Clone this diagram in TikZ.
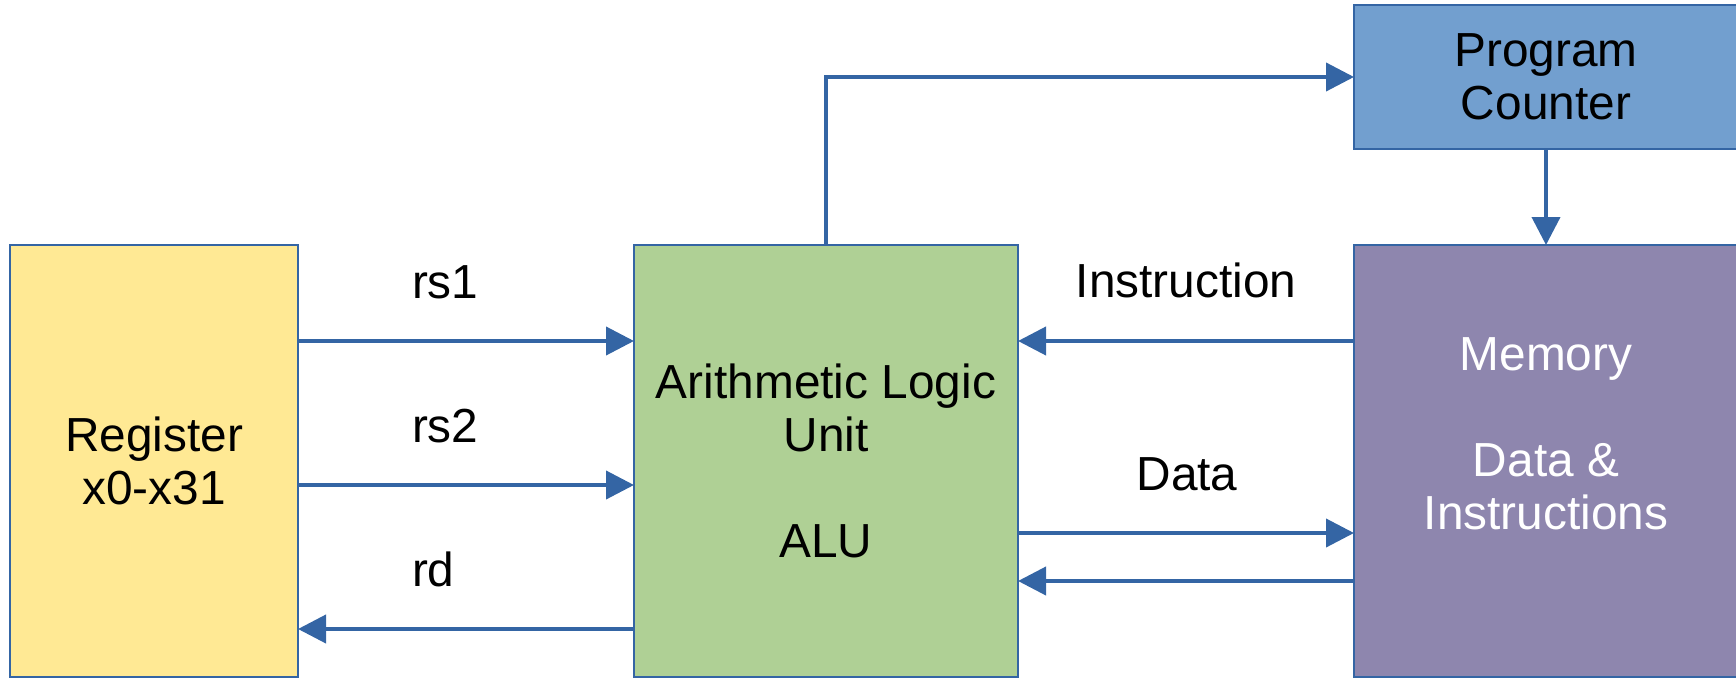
\documentclass[tikz,border=0pt]{standalone}
\usepackage{fontspec}
\setmainfont{Liberation Sans}
\usetikzlibrary{arrows.meta}
\definecolor{lineblue}{HTML}{3465A4}
\definecolor{regyellow}{HTML}{FFE994}
\definecolor{alugreen}{HTML}{AFD095}
\definecolor{pcblue}{HTML}{729FCF}
\definecolor{mempurple}{HTML}{8E86AE}
\tikzset{
  box/.style={draw=lineblue, line width=1.2pt, rectangle, inner sep=0pt, outer sep=0pt, align=center},
  arr/.style={draw=lineblue, line width=4pt, -{Triangle[length=28pt,width=28pt]}},
  lbl/.style={inner sep=0pt, outer sep=0pt}
}
\begin{document}
\begin{tikzpicture}[x=1pt,y=-1pt,font=\fontsize{47.8}{53}\selectfont]
\useasboundingbox (0,0) rectangle (1736,679);
\node[box, fill=regyellow, minimum width=288pt, minimum height=432pt] (reg) at (154,461) {Register\\x0-x31};
\node[box, fill=alugreen, minimum width=384pt, minimum height=432pt] (alu) at (826,461) {Arithmetic Logic\\Unit\\[53pt]ALU};
\node[box, fill=pcblue, minimum width=384pt, minimum height=144pt] (pc) at (1546,77) {Program\\Counter};
\node[box, fill=mempurple, minimum width=384pt, minimum height=432pt] (mem) at (1546,461) {};
\node[lbl, text=white, align=center] (memtext) at (1546,434) {Memory\\[53pt]Data \&\\Instructions};

\draw[arr] ([yshift=-96pt]reg.north east) -- ([yshift=-96pt]alu.north west);
\draw[arr] ([yshift=-240pt]reg.north east) -- ([yshift=-240pt]alu.north west);
\draw[arr] ([yshift=-384pt]alu.north west) -- ([yshift=-384pt]reg.north east);
\draw[arr] ([yshift=-96pt]mem.north west) -- ([yshift=-96pt]alu.north east);
\draw[arr] ([yshift=-288pt]alu.north east) -- ([yshift=-288pt]mem.north west);
\draw[arr] ([yshift=-336pt]mem.north west) -- ([yshift=-336pt]alu.north east);
\draw[arr] (alu.north) |- (pc.west);
\draw[arr] (pc.south) -- (mem.north);

\node[lbl, anchor=base west] (lrs1) at (412,298) {rs1};
\node[lbl, anchor=base west] (lrs2) at (412,442) {rs2};
\node[lbl, anchor=base west] (lrd) at (412,586) {rd};
\node[lbl, anchor=base] (linstr) at (1186,297) {Instruction};
\node[lbl, anchor=base] (ldata) at (1187,490) {Data};
\end{tikzpicture}
\end{document}
